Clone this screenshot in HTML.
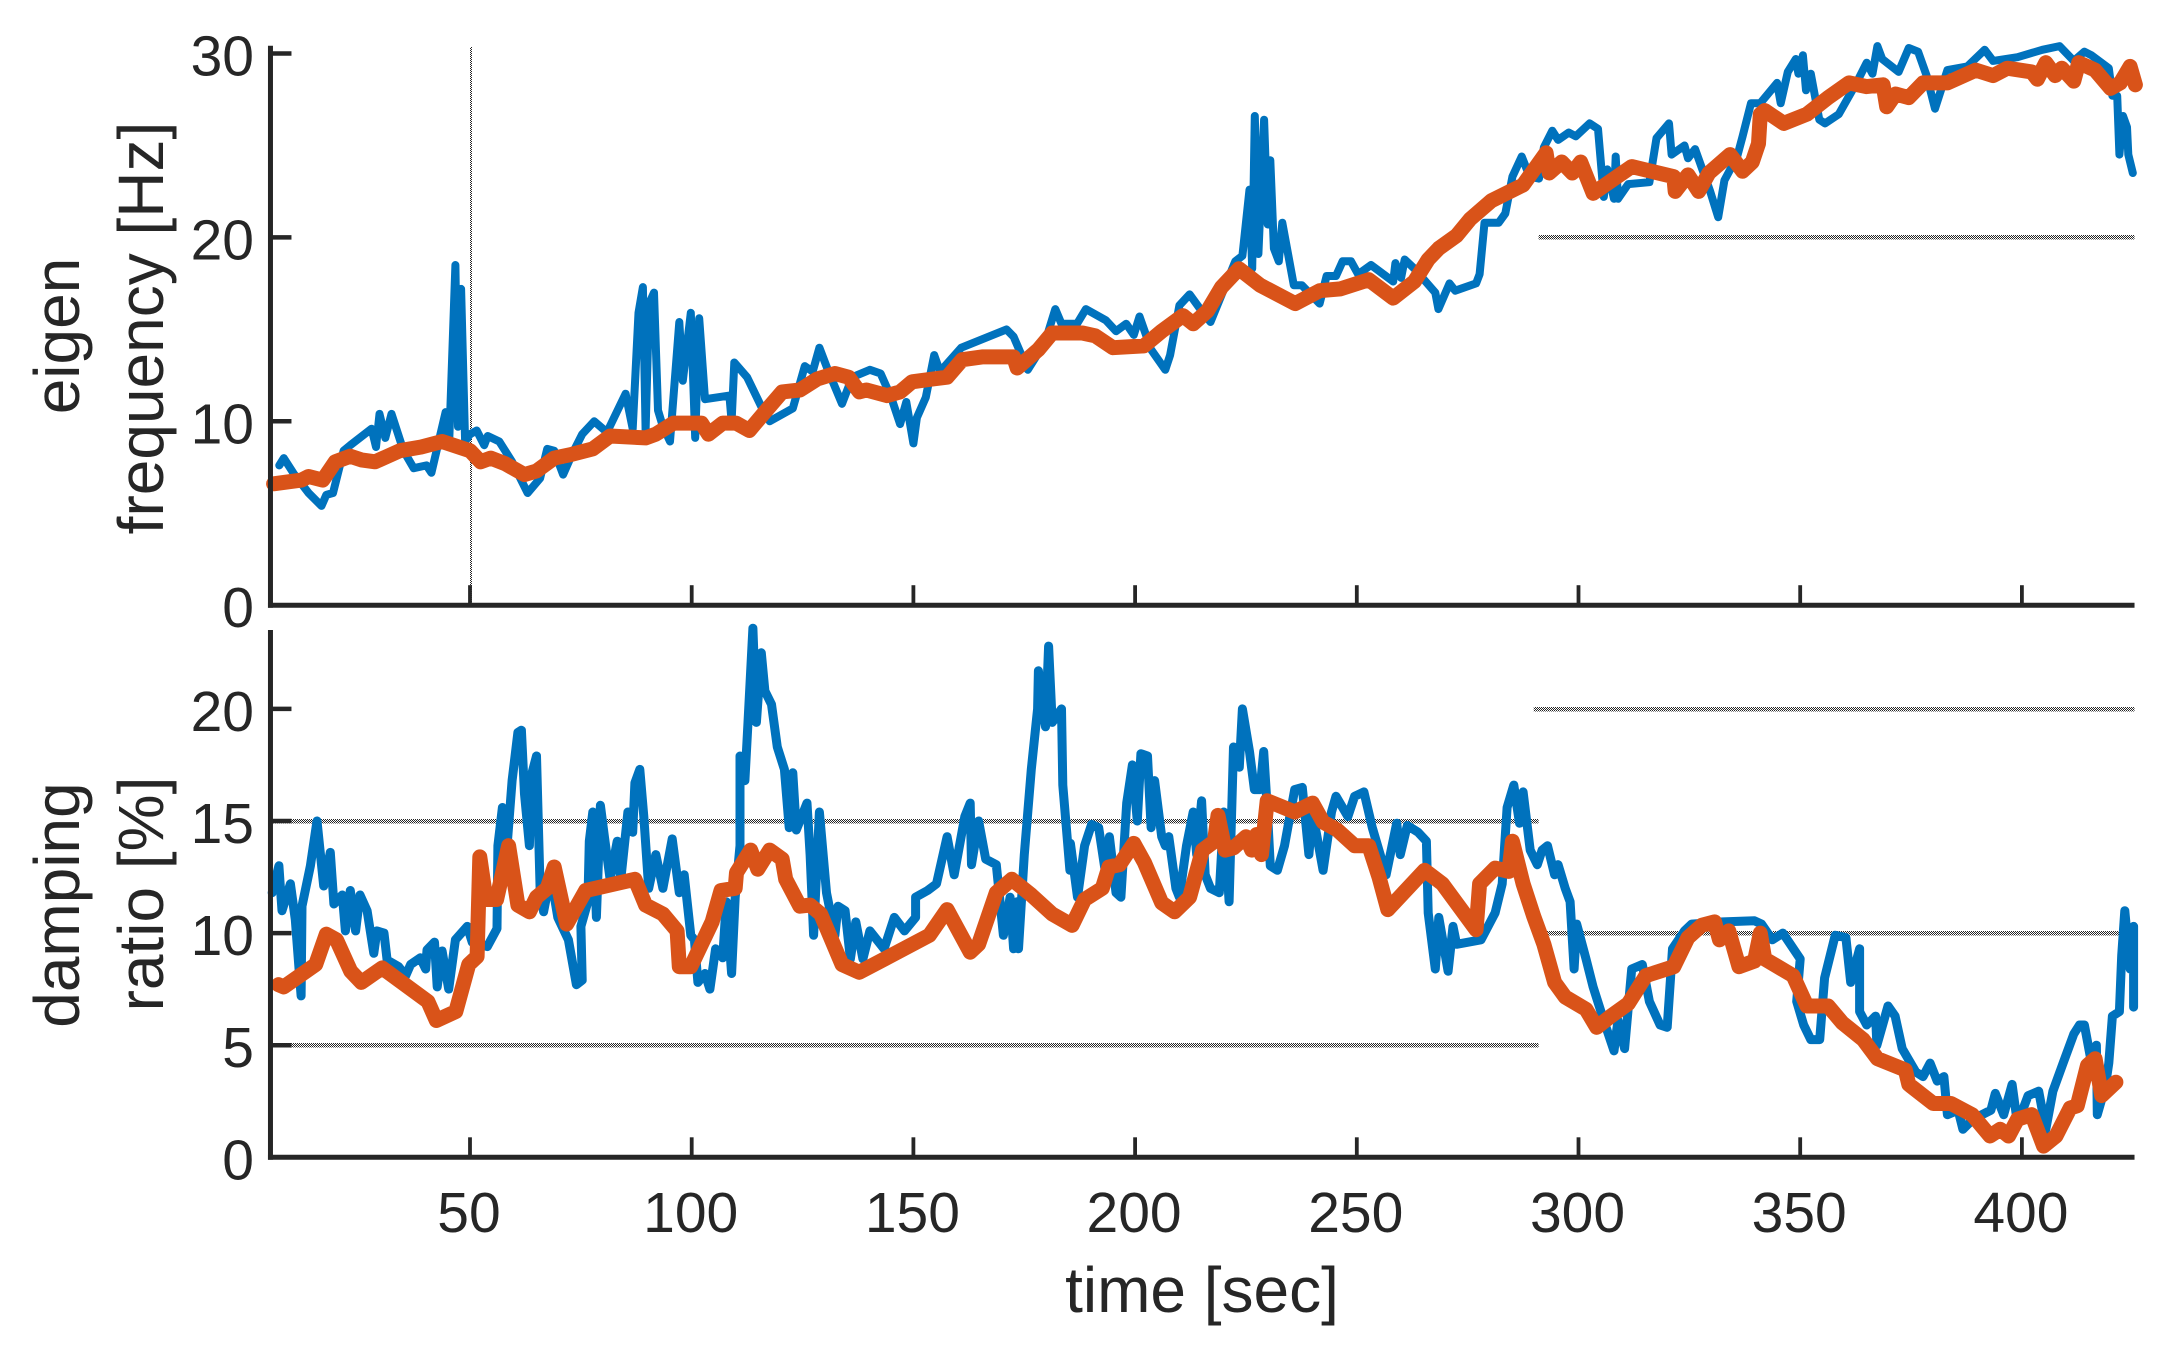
<!DOCTYPE html>
<html lang="en">
<head>
<meta charset="utf-8">
<title>Eigen frequency and damping ratio over time</title>
<style>
html,body{margin:0;padding:0;background:#fff;}
svg{display:block;font-family:"Liberation Sans",Arial,sans-serif;fill:#262626;}
</style>
</head>
<body>
<svg id="chart" xmlns="http://www.w3.org/2000/svg" width="2171" height="1350" viewBox="0 0 2171 1350">
<defs>
<pattern id="checker" patternUnits="userSpaceOnUse" x="0" y="0" width="2" height="2">
<rect x="0" y="0" width="1" height="1" fill="#262626"></rect>
<rect x="1" y="1" width="1" height="1" fill="#262626"></rect>
</pattern>
</defs>
<rect x="0" y="0" width="2171" height="1350" fill="#ffffff"></rect>
<g id="panel-top"></g>
<g id="panel-bottom"></g>
<text x="79" y="336" transform="rotate(-90 79 336)" text-anchor="middle" font-size="64">eigen</text>
<text x="163" y="328" transform="rotate(-90 163 328)" text-anchor="middle" font-size="64">frequency [Hz]</text>
<text x="79" y="905" transform="rotate(-90 79 905)" text-anchor="middle" font-size="64">damping</text>
<text x="163" y="894" transform="rotate(-90 163 894)" text-anchor="middle" font-size="64">ratio [%]</text>
<text x="1202" y="1312" text-anchor="middle" font-size="64">time [sec]</text>
</svg>
<script>
const xTicks = [50,100,150,200,250,300,350,400];
const freqTicks = [0,10,20,30];
const dampTicks = [0,5,10,15,20];

const freqBlueTime = [7,8,10.4,13.6,16.5,17.6,19.1,21.5,23,27.8,28.8,29.6,30.9,32.3,35,37.3,40.2,41.3,44.5,45.3,46.7,47.3,48,48.9,50,51.5,53.2,54,56.6,59.5,63,65.8,67.4,69,71,73,75.3,78,80.9,85.1,86.7,88,89,89.6,90.4,91.5,92.4,93.4,95.1,97.2,98,99.8,100.8,101.7,103,108.5,109,109.6,112.5,115.7,117.6,122.8,125.5,127.3,128.8,130.7,133.9,136.2,140.2,142.6,145,147,148.4,150,150.8,152.8,154.7,156,160.8,171,172.6,175.8,179.7,182,183.4,186.9,188.9,193.4,195.7,198,199.7,201,203.6,206.8,207.9,210,212.3,214.7,217,222.6,224.2,225.8,226.4,227,227.8,229.1,229.9,230.5,231.3,232.4,233.2,235.8,237.6,241.6,243.2,245.3,246.8,248.7,250.3,253.2,258.2,258.7,260,260.8,263,267.7,268.4,270.9,272.2,276.9,277.7,278.8,282,283.5,285.1,287.2,289,291.1,292.2,294.1,295.4,297.8,299.4,302.5,304.4,305.7,306.5,308,308.4,308.9,311.2,316,317.6,320.4,321,323.9,324.7,326.3,329.7,331.5,332.9,335.8,337,338.9,341,344.8,345.6,347.2,349,349.6,350.6,351.3,352.4,354.3,355.6,358.7,362.7,365,366.3,367.4,368.5,372.2,374.5,376.6,378.5,380.4,383.2,387.7,391.6,393.5,399,404.6,408.5,411.7,414.1,415.7,419.6,420.4,421.5,422,422.8,423.7,424,425];
const freqBlueValue = [7.6,8,7.1,6.1,5.4,6,6.1,8.4,8.7,9.6,8.6,10.4,9.1,10.4,8.4,7.45,7.6,7.2,10.5,8.9,18.5,9.7,17.2,8.9,9.3,9.5,8.7,9.2,8.9,7.8,6.1,6.9,8.5,8.4,7.1,8.2,9.3,10,9.4,11.5,9.6,15.9,17.3,9.5,16.4,17,10.6,9.8,8.9,15.4,12.2,15.9,9.1,15.6,11.2,11.4,10,13.2,12.4,10.8,10,10.7,13,12.7,14,12.8,10.95,12.4,12.8,12.6,11.3,9.85,11.05,8.8,10.2,11.3,13.6,12.7,14,15,14.6,12.8,14.3,16.1,15.3,15.3,16.1,15.5,14.9,15.3,14.7,15.7,13.9,12.8,13.6,16.3,16.9,16.1,15.4,18.7,19,22.6,18.3,26.6,19.1,26.4,20.7,24.2,19.4,18.7,20.8,17.4,17.4,16.4,17.9,17.9,18.7,18.7,18,18.5,17.6,18.6,17.8,18.8,18.3,17,16.1,17.5,17.1,17.5,18,20.8,20.8,21.3,23.3,24.4,23.3,23.2,24.9,25.8,25.3,25.7,25.5,26.2,25.9,22.2,23.7,22.1,24.4,22.1,22.9,23,25.4,26.2,24.5,25,24.3,24.8,22.5,21.1,23.1,24.4,25.5,27.3,27.3,28.4,27.3,29,29.7,28.9,29.9,28,28.9,26.4,26.2,26.7,28.4,29.5,28.9,30.4,29.7,29,30.3,30.1,28.8,27,29.1,29.3,30.2,29.6,29.8,30.2,30.4,29.6,30.1,29.9,29.2,27.7,27.7,24.5,26.6,26,24.5,23.5];

const freqOrangeTime = [5.7,12,13.6,16.8,19.6,23,25.5,28.6,34.2,39,43.7,50,52.4,54.7,57.9,62.3,65,69,72.9,77.7,81.6,89.6,91.9,95.9,102.2,103.8,107,110,113,117.2,120.4,124.4,128.3,132.3,135.4,137.8,139.4,144.1,147,149.7,154.4,157.6,161,165.5,172.6,173.4,178.2,181.3,188.1,191,195,202,206,210.8,213.1,216.3,219.5,223.4,228.2,236.1,241.6,246.3,252.7,258.2,263,266.1,268.5,272.5,275.6,280.4,287.5,292.7,293.4,296.2,298.6,300.5,303.3,312,321.5,321.8,324.7,327.1,329.4,334.2,337,339.2,340.6,341,342,346.3,351.5,356.3,361,365,368.7,369.5,371.5,374.5,377.7,383.2,389.6,393.5,396.7,402.2,403.5,405.4,407.5,409,411.7,412.8,416.5,420,422.2,424.4,425.6];
const freqOrangeValue = [6.6,6.8,7,6.8,7.8,8.1,7.9,7.8,8.4,8.6,8.9,8.4,7.8,8,7.7,7.1,7.3,8,8.2,8.5,9.2,9.1,9.3,9.9,9.9,9.3,9.9,9.9,9.5,10.7,11.6,11.7,12.3,12.6,12.4,11.6,11.7,11.4,11.6,12.15,12.3,12.4,13.35,13.5,13.5,12.9,13.9,14.8,14.8,14.65,14,14.1,14.9,15.75,15.3,16,17.3,18.3,17.4,16.4,17.1,17.2,17.7,16.7,17.6,18.8,19.4,20.1,21,22,22.85,24.6,23.5,24.1,23.5,24.1,22.4,23.85,23.3,22.5,23.4,22.5,23.5,24.5,23.6,24.1,25.1,26.7,26.9,26.2,26.7,27.6,28.4,28.2,28.3,27.1,27.8,27.6,28.4,28.4,29.1,28.8,29.2,29,28.6,29.5,28.8,29.2,28.5,29.5,29.1,28.1,28.4,29.3,28.3];

const dampBlueTime = [5.4,6.9,7.6,9.5,10.6,11.9,12.1,14,15.5,17,18.5,19.3,21.2,21.9,23,24.2,25.2,26.8,28.3,29,30.6,31.3,33.9,35.5,36.6,38.8,40,40.3,42,42.6,43.7,45.2,46.7,49.4,50.5,53.9,56.1,56.3,57.3,58.2,59.5,60.8,61.6,62.3,63.4,63.8,65,65.8,66.6,68.2,69.8,72.2,74,75.3,75,76.6,76.9,77.7,78.5,79.4,80.3,81.6,83.2,84,85.6,86.7,87.2,88.3,89.2,90.3,91.9,93.5,95.6,97.2,98.3,99.8,100.6,101.4,103,104.1,105.4,107,107.8,109,109.8,110.9,110.9,112,112.7,113.8,114.6,115.7,116.5,118,119.3,120.9,122,122.8,123.6,126,126.7,127.5,128.8,130.4,132.3,133,134.6,135.8,137,138.6,140.2,143.4,145.7,148,150.5,150.5,153.2,155.2,157.6,159.2,161.6,162.8,163.1,164.7,166.3,168.7,170.3,171.8,172.6,173.4,173.7,175,176.6,178,178.2,179.8,180.5,181.3,183.4,183.7,185.3,185.4,187,188.6,190.2,191.8,193.4,194.2,195.7,196.8,198.1,199.4,200.5,201.3,202.8,203.6,204.4,206,206.8,207.6,209.2,210,211.6,213.1,213.9,215,215.8,217,219,220,221.2,222.2,223.5,224.2,225.8,226.9,228.2,229,229.8,230.5,232.1,233.7,236,237.7,239.2,240,242.4,244.3,245.3,248,249.5,251.6,253.5,256.6,259,259.8,261.4,263.8,265.7,266.1,267.7,268.5,270.6,271.7,272.5,278,281.2,282.8,283.9,285.4,286.7,287.5,289.1,290.7,291.8,293,294.6,295.4,297,298.1,299,299.6,301.7,303.3,305.7,308,308.9,310.4,312,314.4,316,318.4,320,321.2,323.9,325.5,332.6,339.7,341.3,343.7,346.1,350,349.2,350.8,352.4,354.4,355.5,357.9,360.3,361.4,363.4,363.4,365,367,367.3,369.8,371.4,373,376.1,377.7,379.3,380.9,382.4,383.2,385.6,386.7,389,393,394,395.9,397.8,399,401.4,403.8,405.4,407,409.3,411.7,413,414.1,415.7,416.8,417,418.8,419.6,420.4,422,422.5,423.2,424.4,425.2,425.2];
const dampBlueValue = [11.8,13,11,12.2,10.6,7.2,11.2,13,15,12.1,13.6,11.3,11.7,10.1,11.9,10.1,11.7,11,9.1,10.1,10,8.8,8.5,8.1,8.6,8.9,8.4,9.25,9.6,7.6,9.2,7.5,9.7,10.3,9.6,9.4,10.2,13.9,15.6,13.5,16.8,18.95,19.05,16.2,13.9,17,17.9,12,10.95,12.6,10.7,9.7,7.7,7.9,10.3,11.4,14.1,15.4,10.7,15.7,14.3,12.4,14.1,12.4,15.4,14.5,16.7,17.3,15.2,12,13.5,12,14.2,11.8,12.6,9.9,9.7,7.8,8.2,7.5,9.3,8.9,11.4,8.2,11.6,13.9,17.9,16.8,19.4,23.6,19.4,22.5,20.8,20.2,18.3,17.3,14.7,17.15,14.6,15.8,13.5,9.9,15.4,11.8,9.9,11.2,11,8.85,10.5,8.85,10.1,9.3,10.7,10.1,10.7,11.6,11.9,12.2,14.3,12.6,15.2,15.8,13.05,15,13.3,13.05,9.9,11.6,9.3,11.4,9.3,13.5,17.3,20,21.7,19.2,22.8,19.4,20,16.6,12.8,14,11.6,13.9,14.85,14.7,12.6,14.3,11.8,11.6,15.8,17.5,15,18,17.9,14.7,16.8,14.3,13.9,14.3,12,11.6,13.9,15.4,13.5,15.9,12.6,12,11.8,15.4,11.4,18.3,17.4,20,18.1,16.4,16.4,18.1,15.6,13,12.8,13.9,16.4,16.5,13.5,15.4,12.8,15.4,16.1,15.2,16.1,16.3,14.7,12.6,14.9,13.5,14.8,14.5,14.1,10.9,8.4,10.7,8.3,10.3,9.5,9.7,10.9,12.2,15.6,16.6,14.9,16.3,13.7,13.05,13.7,13.9,12.6,13.05,12,11.4,8.4,10.4,8.85,7.6,6.1,4.75,6.1,4.85,8.4,8.6,6.95,5.9,5.8,9.3,10.1,10.4,10.5,10.55,10.4,9.7,10,8.85,6.95,5.9,5.25,5.25,8,9.9,9.8,7.8,9.3,6.5,5.9,6.3,5,6.75,6.3,4.85,3.8,3.6,4.2,3.4,3.6,1.9,2.1,1.25,1.7,2.1,2.85,1.9,3.25,1.5,2.75,2.95,1.25,2.95,4.2,5.5,5.9,5.9,4.2,5,1.9,3.15,4.2,6.3,6.5,9,11,8.4,10.3,6.7];

const dampOrangeTime = [6.8,8,15.2,17.6,19.9,23.1,25.5,30.2,40.5,42.4,46.8,49.7,51.6,52.2,53.6,56,58.7,60.8,63.4,65,67.4,69,71.8,76.1,87.2,89.6,93.5,96.7,97.2,99.8,104.6,106.6,109.8,110.1,113.3,114.9,117.6,120.4,121.2,124.4,126.7,129.1,133.9,137.8,153.6,157.6,162.8,164.7,168.7,172.2,176.6,181.3,185.8,188.6,192.6,194.1,196.5,199.7,202.1,206,208.9,212.3,215.2,217.9,218.7,220.3,222.2,225,226.3,227.4,228.5,229.8,236,240,242.4,245.6,249.5,252.7,255,257,265.3,269.3,276.9,277.7,281.2,284.3,285.1,287.5,289.9,292.2,294.6,297,301.7,304.1,307.3,311.2,315.2,321.5,324.7,327.8,330.7,331.8,333.9,336.2,339.7,341,342,348.4,351.5,356.3,359.5,364.2,367.4,373.7,374.5,380,384,388.8,392.8,395.1,397,399,402.2,404.9,407.7,410.9,412.5,414.8,416.5,418,421.2];
const dampOrangeValue = [7.7,7.6,8.6,9.95,9.7,8.3,7.8,8.45,6.95,6.1,6.5,8.6,8.95,13.4,11.5,11.5,13.9,11.25,10.95,11.6,12,12.95,10.4,11.9,12.4,11.25,10.85,10.1,8.5,8.5,10.5,11.9,12,12.7,13.7,12.85,13.7,13.3,12.4,11.2,11.25,10.85,8.6,8.25,9.9,11.05,9.15,9.5,11.8,12.4,11.7,10.85,10.35,11.5,12,12.95,13.05,14,13.15,11.35,10.95,11.6,13.7,14.1,15.25,13.7,13.8,14.3,13.7,14.4,13.5,15.9,15.4,15.8,14.95,14.6,13.9,13.9,12.5,11.05,12.8,12.2,10.15,12.2,12.9,12.75,14.1,12.2,10.75,9.5,7.8,7.15,6.6,5.8,6.3,6.85,8.1,8.5,9.8,10.35,10.5,9.7,10.1,8.5,8.75,10,8.85,8.1,6.75,6.75,6,5.25,4.4,3.9,3.25,2.4,2.4,1.9,0.95,1.25,0.95,1.7,1.9,0.5,0.95,2.2,2.3,4.1,4.4,2.75,3.35];

const freqRefValue = [20];
const dampRefHighValue = [20];
const dampRefMidValue = [10];
const dampRefLowValues = [5,15];
const refSplitTime = 291;
const verticalMarkerTime = [50];

const SVG_NS = 'http://www.w3.org/2000/svg';
const AXIS_COLOR = '#262626';
const BLUE = '#0072BD';
const ORANGE = '#D95319';
const CHECKER = 'url(#checker)';
const TIME_MIN = 5;
const TIME_MAX = 425.4;

function xScale(t){ return 470 + (t - 50) * 4.434; }
function yFreq(v){ return 605.2 - v * 18.39; }
function yDamp(v){ return 1157.3 - v * 22.42; }

function seriesPath(times, values, yFn){
  let d = '';
  const n = Math.min(times.length, values.length);
  for (let i = 0; i < n; i++) {
    d += (i ? 'L' : 'M') + xScale(times[i]).toFixed(1) + ' ' + yFn(values[i]).toFixed(1);
  }
  return d;
}

function addLine(parent, x1, y1, x2, y2, color, width){
  const el = document.createElementNS(SVG_NS, 'line');
  el.setAttribute('x1', x1);
  el.setAttribute('y1', y1);
  el.setAttribute('x2', x2);
  el.setAttribute('y2', y2);
  el.setAttribute('stroke', color);
  el.setAttribute('stroke-width', width);
  parent.appendChild(el);
  return el;
}

function addRefBand(parent, x, y, w, h){
  const el = document.createElementNS(SVG_NS, 'rect');
  el.setAttribute('x', x);
  el.setAttribute('y', y);
  el.setAttribute('width', w);
  el.setAttribute('height', h);
  el.setAttribute('fill', CHECKER);
  parent.appendChild(el);
  return el;
}

function addText(parent, x, y, anchor, str){
  const el = document.createElementNS(SVG_NS, 'text');
  el.setAttribute('x', x);
  el.setAttribute('y', y);
  el.setAttribute('text-anchor', anchor);
  el.setAttribute('font-size', '57');
  el.textContent = str;
  parent.appendChild(el);
  return el;
}

function addSeries(parent, times, values, yFn, color, width){
  const el = document.createElementNS(SVG_NS, 'path');
  el.setAttribute('d', seriesPath(times, values, yFn));
  el.setAttribute('fill', 'none');
  el.setAttribute('stroke', color);
  el.setAttribute('stroke-width', width);
  el.setAttribute('stroke-linejoin', 'round');
  el.setAttribute('stroke-linecap', 'round');
  parent.appendChild(el);
  return el;
}

const top_ = document.getElementById('panel-top');
const bottom_ = document.getElementById('panel-bottom');
const x0 = xScale(TIME_MIN);
const x1 = xScale(TIME_MAX);
const splitX = xScale(refSplitTime);
const refThick = 4.5;

/* reference lines, top panel */
verticalMarkerTime.forEach(function(t){
  const el = addRefBand(top_, Math.round(xScale(t)), 47, 2, yFreq(0) - 47);
  
  
});
freqRefValue.forEach(function(v){
  const el = addRefBand(top_, splitX, Math.round(yFreq(v) - refThick / 2), x1 - splitX, refThick);
  
  
});

/* reference lines, bottom panel */
dampRefHighValue.forEach(function(v){
  const el = addRefBand(bottom_, xScale(289.9), Math.round(yDamp(v) - refThick / 2), x1 - xScale(289.9), refThick);
  
  
});
dampRefMidValue.forEach(function(v){
  const el = addRefBand(bottom_, splitX, Math.round(yDamp(v) - refThick / 2), x1 - splitX, refThick);
  
  
});
dampRefLowValues.forEach(function(v){
  const el = addRefBand(bottom_, x0, Math.round(yDamp(v) - refThick / 2), splitX - x0, refThick);
  
  
});

/* series */
const s1 = addSeries(top_, freqBlueTime, freqBlueValue, yFreq, BLUE, 8);


const s2 = addSeries(top_, freqOrangeTime, freqOrangeValue, yFreq, ORANGE, 15);


const s3 = addSeries(bottom_, dampBlueTime, dampBlueValue, yDamp, BLUE, 9);


const s4 = addSeries(bottom_, dampOrangeTime, dampOrangeValue, yDamp, ORANGE, 15);



/* axes */
const axTopY = addLine(top_, x0, 45.7, x0, yFreq(0) + 2.5, AXIS_COLOR, 5);


const axTopX = addLine(top_, x0 - 2.5, yFreq(0), x1, yFreq(0), AXIS_COLOR, 5);


const axBotY = addLine(bottom_, x0, 630, x0, yDamp(0) + 2.5, AXIS_COLOR, 5);


const axBotX = addLine(bottom_, x0 - 2.5, yDamp(0), x1, yDamp(0), AXIS_COLOR, 5);



xTicks.forEach(function(t){
  const tickA = addLine(top_, xScale(t), yFreq(0), xScale(t), yFreq(0) - 20, AXIS_COLOR, 3.8);
  
  
  const tickB = addLine(bottom_, xScale(t), yDamp(0), xScale(t), yDamp(0) - 20, AXIS_COLOR, 3.8);
  
  
  const label = addText(bottom_, xScale(t) - 1, 1232, 'middle', String(t));
  
  
});

freqTicks.forEach(function(v){
  if (v > 0) {
    const tick = addLine(top_, x0, yFreq(v), x0 + 21, yFreq(v), AXIS_COLOR, 4.5);
    
    
  }
  const label = addText(top_, 254, yFreq(v) + 22, 'end', String(v));
  
  
});

dampTicks.forEach(function(v){
  if (v > 0) {
    const tick = addLine(bottom_, x0, yDamp(v), x0 + 21, yDamp(v), AXIS_COLOR, 4.5);
    
    
  }
  const label = addText(bottom_, 254, yDamp(v) + 22, 'end', String(v));
  
  
});
</script>
</body>
</html>
